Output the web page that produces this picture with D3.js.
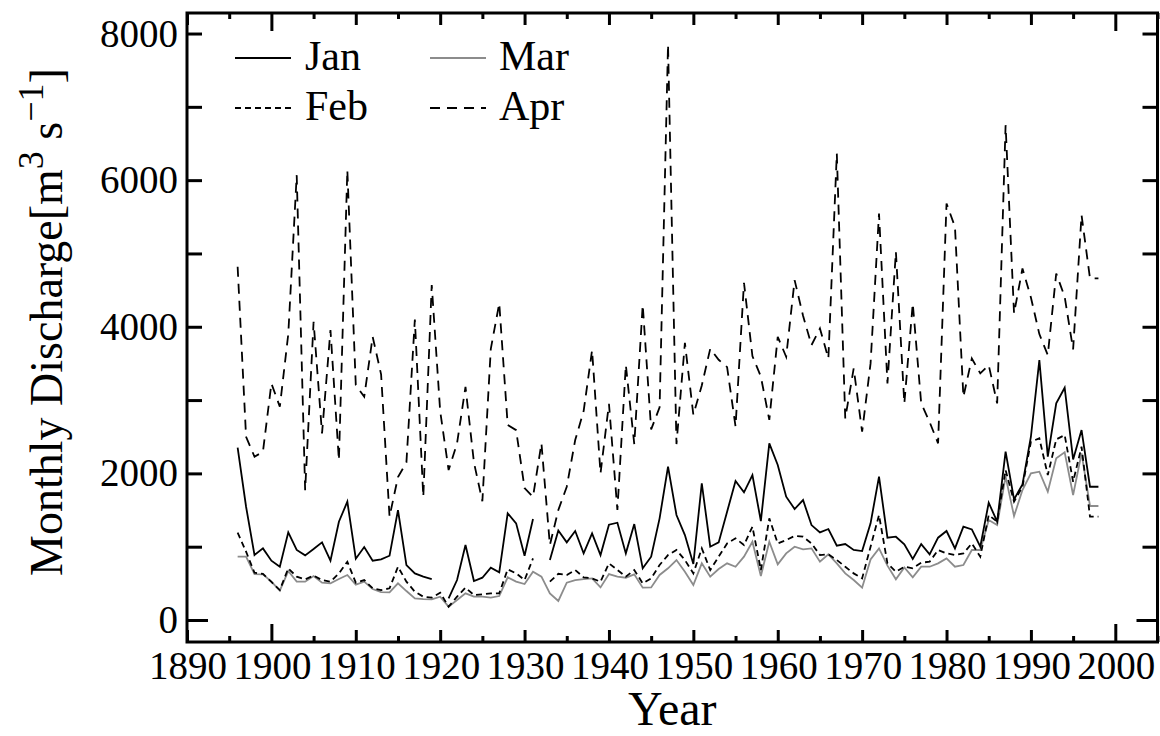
<!DOCTYPE html>
<html>
<head>
<meta charset="utf-8">
<script src="https://cdn.jsdelivr.net/npm/d3@7"></script>
<style>
  body { margin: 0; background: #fff; }
  svg { display: block; }
  text { font-family: "Liberation Serif", "Times New Roman", serif; fill: #000; }
</style>
</head>
<body>
<div id="chart"></div>
<script>
// years of record
const years = d3.range(1896, 1999);

// monthly discharge, m3/s (null = missing)
const jan = [2350, 1545, 886, 977, 809, 727, 1195, 955, 882, 968,
  1059, 809, 1341, 1614, 836, 995, 809, 827, 877, 1500,
  750, 636, 591, 559, null, 296, 545, 1023, 532, 577,
  714, 650, 1455, 1318, 877, 1377, null, 818, 1220, 1059,
  1214, 909, 1182, 886, 1300, 1327, 909, 1309, 705, 864,
  1387, 2091, 1432, 1159, 764, 1864, 1000, 1059, 1477, 1896,
  1741, 1977, 1350, 2410, 2114, 1682, 1514, 1636, 1295, 1195,
  1241, 1014, 1036, 955, 941, 1318, 1955, 1123, 1136, 1032,
  832, 1036, 896, 1123, 1214, 977, 1273, 1236, 1000, 1600,
  1341, 2296, 1646, 1850, 2500, 3546, 2228, 2955, 3168, 2191,
  2591, 1818, 1818];

const feb = [1191, 932, 645, 630, 520, 409, 705, 591, 555, 605,
  545, 523, 636, 795, 509, 545, 432, 409, 432, 727,
  523, 386, 318, 305, 373, 182, 318, 441, 341, 350,
  364, 364, 691, 636, 545, 841, null, 523, 630, 614,
  682, 582, 568, 523, 773, 682, 591, 682, 500, 568,
  750, 886, 955, 818, 636, 977, 682, 864, 1045, 1114,
  1023, 1273, 682, 1387, 1045, 1091, 1146, 1136, 1045, 886,
  896, 818, 727, 636, 568, 1000, 1432, 773, 659, 727,
  705, 782, 795, 955, 909, 886, 909, 1045, 864, 1432,
  1341, 2045, 1614, 1818, 2432, 2478, 1977, 2464, 2523, 1886,
  2364, 1409, 1409];

const mar = [864, 864, 627, 623, 523, 400, 668, 523, 523, 600,
  509, 500, 559, 614, 482, 523, 423, 380, 377, 500,
  395, 295, 286, 282, 318, 182, 273, 364, 318, 318,
  305, 327, 582, 523, 491, 659, 591, 364, 260, 509,
  545, 559, 568, 445, 627, 591, 577, 623, 441, 445,
  614, 705, 818, 659, 477, 773, 591, 695, 773, 727,
  864, 1068, 600, 1068, 759, 909, 1000, 964, 977, 795,
  896, 773, 636, 545, 441, 827, 977, 741, 555, 718,
  582, 727, 727, 773, 840, 727, 750, 955, 955, 1364,
  1296, 1955, 1418, 1773, 2000, 2023, 1750, 2205, 2287, 1705,
  2273, 1555, 1555];

const apr = [4818, 2500, 2227, 2296, 3227, 2909, 3900, 6068, 1770, 4068,
  2545, 3955, 2180, 6136, 3205, 3045, 3864, 3350, 1410, 1950,
  2150, 4100, 1680, 4570, 2850, 2045, 2410, 3180, 2150, 1620,
  3700, 4320, 2660, 2590, 1800, 1680, 2410, 1023, 1500, 1818,
  2455, 2850, 3680, 2000, 2950, 1500, 3480, 2400, 4300, 2600,
  2900, 7850, 2400, 3780, 2800, 3200, 3700, 3550, 3450, 2640,
  4600, 3600, 3320, 2730, 3864, 3591, 4636, 4150, 3750, 3977,
  3568, 6364, 2750, 3432, 2568, 3500, 5545, 3227, 5023, 2955,
  4318, 2955, 2700, 2410, 5682, 5364, 3045, 3568, 3364, 3477,
  2955, 6750, 4182, 4795, 4400, 3900, 3614, 4727, 4409, 3691,
  5523, 4659, 4659];

const xTickLabels = d3.range(1890, 2001, 10);
const yTickLabels = [0, 2000, 4000, 6000, 8000];
const yTicks = d3.range(0, 8001, 1000);

function init() {
  const width = 1160, height = 736;
  const left = 187, right = 1157.5, top = 13, bottom = 642;

  const svg = d3.select("#chart").append("svg")
    .attr("width", width)
    .attr("height", height);

  const x = d3.scaleLinear().domain([1890, 2005]).range([left, right]);
  const y = d3.scaleLinear().domain([-300, 8280]).range([bottom, top]);

  const series = [
    {name: "Jan", values: jan, color: "#000", dash: null},
    {name: "Feb", values: feb, color: "#000", dash: "6,4"},
    {name: "Mar", values: mar, color: "#8c8c8c", dash: null},
    {name: "Apr", values: apr, color: "#000", dash: "10,7"}
  ];

  const line = d3.line()
    .defined(d => d[1] != null)
    .x(d => x(d[0]))
    .y(d => y(d[1]));

  // draw gray first so black lines sit on top
  const order = [series[2], series[1], series[3], series[0]];
  svg.append("g").selectAll("path")
    .data(order)
    .join("path")
    .attr("d", s => line(years.map((yr, i) => [yr, s.values[i]])))
    .attr("fill", "none")
    .attr("stroke", s => s.color)
    .attr("stroke-width", 1.8)
    .attr("stroke-dasharray", s => s.dash);

  // x ticks: every 5 years, longer at decades and centuries
  const fives = d3.range(1890, 2006, 5);
  const xLen = d => d % 100 === 0 ? 18 : (d % 10 === 0 ? 12 : 6);

  const xb = svg.append("g")
    .attr("transform", `translate(0,${bottom})`)
    .call(d3.axisBottom(x).tickValues(fives).tickSizeOuter(0).tickFormat(""));
  xb.selectAll(".tick line").attr("y2", d => -xLen(d));

  const xt = svg.append("g")
    .attr("transform", `translate(0,${top})`)
    .call(d3.axisTop(x).tickValues(fives).tickSizeOuter(0).tickFormat(""));
  xt.selectAll(".tick line").attr("y2", d => xLen(d));

  // y ticks
  const yLen = d => d === 0 ? 21 : 15;
  const yl = svg.append("g")
    .attr("transform", `translate(${left},0)`)
    .call(d3.axisLeft(y).tickValues(yTicks).tickSizeOuter(0).tickFormat(""));
  yl.selectAll(".tick line").attr("x2", d => yLen(d));

  const yr = svg.append("g")
    .attr("transform", `translate(${right},0)`)
    .call(d3.axisRight(y).tickValues(yTicks).tickSizeOuter(0).tickFormat(""));
  yr.selectAll(".tick line").attr("x2", d => -yLen(d));

  svg.selectAll(".domain").remove();
  svg.selectAll(".tick line").attr("stroke", "#000").attr("stroke-width", 3);

  // frame
  svg.append("rect")
    .attr("x", left).attr("y", top)
    .attr("width", right - left).attr("height", bottom - top)
    .attr("fill", "none")
    .attr("stroke", "#000")
    .attr("stroke-width", 3);

  // tick labels
  svg.append("g").selectAll("text")
    .data(xTickLabels)
    .join("text")
    .attr("x", d => x(d) + 1)
    .attr("y", 679)
    .attr("text-anchor", "middle")
    .style("font-size", "39px")
    .text(d => d);

  svg.append("g").selectAll("text")
    .data(yTickLabels)
    .join("text")
    .attr("x", 178)
    .attr("y", d => y(d) + 13)
    .attr("text-anchor", "end")
    .style("font-size", "39px")
    .text(d => d);

  // axis titles
  svg.append("text")
    .attr("x", (left + right) / 2)
    .attr("y", 725)
    .attr("text-anchor", "middle")
    .style("font-size", "48px")
    .text("Year");

  const yt = svg.append("text")
    .attr("transform", "translate(62,322) rotate(-90)")
    .attr("text-anchor", "middle")
    .style("font-size", "46px");
  yt.append("tspan").text("Monthly Discharge[m");
  yt.append("tspan").attr("dy", -19).style("font-size", "36px").text("3");
  yt.append("tspan").attr("dy", 19).text(" s");
  yt.append("tspan").attr("dy", -19).style("font-size", "36px").text("\u22121");
  yt.append("tspan").attr("dy", 19).text("]");

  // legend
  const legendPos = [
    {s: series[0], lx: 235, tx: 305, ly: 58},
    {s: series[1], lx: 235, tx: 305, ly: 108},
    {s: series[2], lx: 430, tx: 499, ly: 58},
    {s: series[3], lx: 430, tx: 499, ly: 108}
  ];
  const lg = svg.append("g").selectAll("g")
    .data(legendPos)
    .join("g");
  lg.append("line")
    .attr("x1", d => d.lx).attr("x2", d => d.lx + 56)
    .attr("y1", d => d.ly).attr("y2", d => d.ly)
    .attr("stroke", d => d.s.color)
    .attr("stroke-width", 1.8)
    .attr("stroke-dasharray", d => d.s.dash);
  lg.append("text")
    .attr("x", d => d.tx)
    .attr("y", d => d.ly + 12)
    .style("font-size", "42px")
    .text(d => d.s.name);
}

window.onload = init;
</script>
</body>
</html>
